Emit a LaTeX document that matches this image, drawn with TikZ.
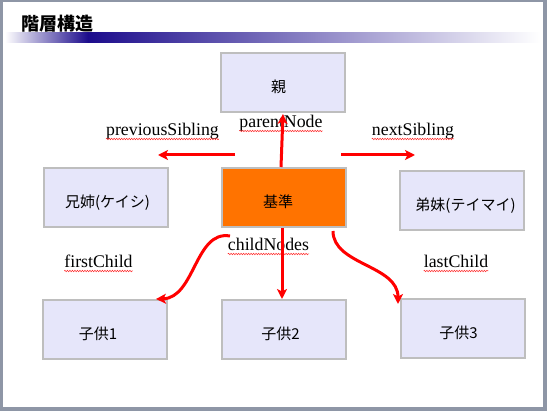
\documentclass[tikz,border=0pt]{standalone}
\usepackage{fontspec}
\setmainfont{Liberation Serif}
\newfontfamily\jpfont{Noto Sans CJK JP}
\usetikzlibrary{arrows.meta,decorations.pathmorphing}
\definecolor{framegray}{RGB}{142,150,166}
\definecolor{boxfill}{RGB}{230,230,250}
\definecolor{boxline}{RGB}{190,190,190}
\definecolor{basefill}{RGB}{255,115,0}
\definecolor{barnavy}{RGB}{28,12,140}

\begin{document}
\begin{tikzpicture}[x=1pt,y=-1pt,
    box/.style={draw=boxline, line width=2pt, fill=boxfill,
      minimum width=124pt, minimum height=59pt, inner sep=0pt,
      font=\jpfont\fontsize{15}{17}\selectfont, text height=22pt, text depth=1.5pt},
    arr/.style={red, line width=3pt, -{Stealth[length=10pt,width=10pt,inset=2.5pt]}},
    lbl/.style={inner sep=0pt, anchor=base, font=\fontsize{17.8}{20}\selectfont},
    squig/.style={red!85, line width=0.5pt, decorate,
      decoration={snake, amplitude=0.7pt, segment length=2.5pt}}]
    \useasboundingbox (0,0) rectangle (547,411);
    % slide frame and title bar
    \fill[framegray] (0,0) rectangle (547,411);
    \fill[white] (3,2) rectangle (543,407);
    \shade[left color=white, right color=barnavy] (5,33) rectangle (88,43);
    \shade[left color=barnavy, right color=white] (88,33) rectangle (540,43);
    \node[anchor=west, inner sep=0pt, font=\jpfont\bfseries\fontsize{18}{20}\selectfont]
      (title) at (21,24) {階層構造};

    % the boxes
    \node[box] (oya) at (282.5,82.5) {親\kern8pt};
    \node[box] (ani) at (105.5,197.5) {\kern4pt兄姉(ケイシ)};
    \node[box, fill=basefill] (kijun) at (284,197.5) {基準\kern12pt};
    \node[box] (otouto) at (461.5,200.5) {\kern8pt弟妹(テイマイ)};
    \node[box] (ko1) at (105,329.5) {子供1\kern14pt};
    \node[box] (ko2) at (284,329.5) {子供2\kern7pt};
    \node[box] (ko3) at (462.5,328.5) {子供3\kern8pt};

    % labels
    \node[lbl] (pn) at (281,128) {parentNode};
    \node[lbl] (ps) at (162.5,136) {previousSibling};
    \node[lbl] (ns) at (413,136) {nextSibling};
    \node[lbl] (cn) at (268.5,251) {childNodes};
    \node[lbl] (fc) at (98.5,268) {firstChild};
    \node[lbl] (lc) at (456,268) {lastChild};
    \foreach \n in {pn,ps,ns,cn,fc,lc}
    \draw[squig] ([yshift=-3pt]\n.base west) -- ([yshift=-3pt]\n.base east);

    \coordinate (psA) at (235,155);
    \coordinate (psB) at (158,155);
    \coordinate (nsA) at (341,155);
    \coordinate (nsB) at (415,155);
    \coordinate (fcA) at (230,236);
    \coordinate (lcA) at (333,231);
    \coordinate (lcB) at (398,304);

    \draw[arr] (psA) -- (psB);
    \draw[arr] (nsA) -- (nsB);
    \draw[arr] ([xshift=-3pt]kijun.north) -- ([xshift=0.5pt,yshift=-1pt]oya.south);
    \draw[arr] ([xshift=-2pt]kijun.south) -- ([xshift=-2pt]ko2.north);
    \draw[arr] (fcA) .. controls (195,230) and (195,298) .. ([xshift=-12pt]ko1.north east);
    \draw[arr] (lcA) .. controls (333,265) and (398,265) .. (lcB);
\end{tikzpicture}
\end{document}
